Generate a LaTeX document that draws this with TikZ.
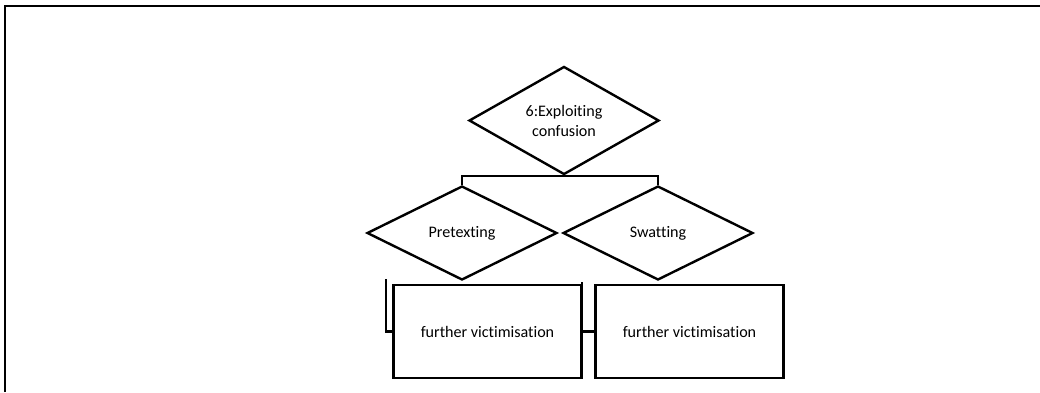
\documentclass[tikz,border=0pt]{standalone}
\usepackage{fontspec}
\setmainfont[RawFeature={-liga;-clig;-calt}]{Carlito}
\usetikzlibrary{shapes.geometric}

\begin{document}
\begin{tikzpicture}[x=1pt,y=-1pt,line width=2.4pt,
font=\fontsize{16.1}{20}\selectfont]
\tikzstyle{choice}=[diamond,draw,inner sep=0pt,minimum width=190pt,minimum height=94pt,align=center]
\tikzstyle{outcome}=[rectangle,draw,inner sep=0pt,minimum width=188pt,minimum height=93pt]

\useasboundingbox (0,0) rectangle (1040,392);
\draw (5,392) -- (5,6) -- (1040,6);

\node[choice]  (E) at (564,120.5) {6:Exploiting\\confusion};
\node[choice]  (P) at (462,233)   {Pretexting};
\node[choice]  (S) at (658,233)   {Swatting};
\node[outcome] (F1) at (487.5,331.5) {further victimisation};
\node[outcome] (F2) at (689.5,331.5) {further victimisation};
\coordinate (c1) at (386,279);
\coordinate (c2) at (582,282);

\draw (E.south) -- (E.south -| P.north) -- (P.north);
\draw (E.south) -- (E.south -| S.north) -- (S.north);
\draw (c1) |- (F1.west);
\draw (c2) |- (F2.west);
\end{tikzpicture}
\end{document}
